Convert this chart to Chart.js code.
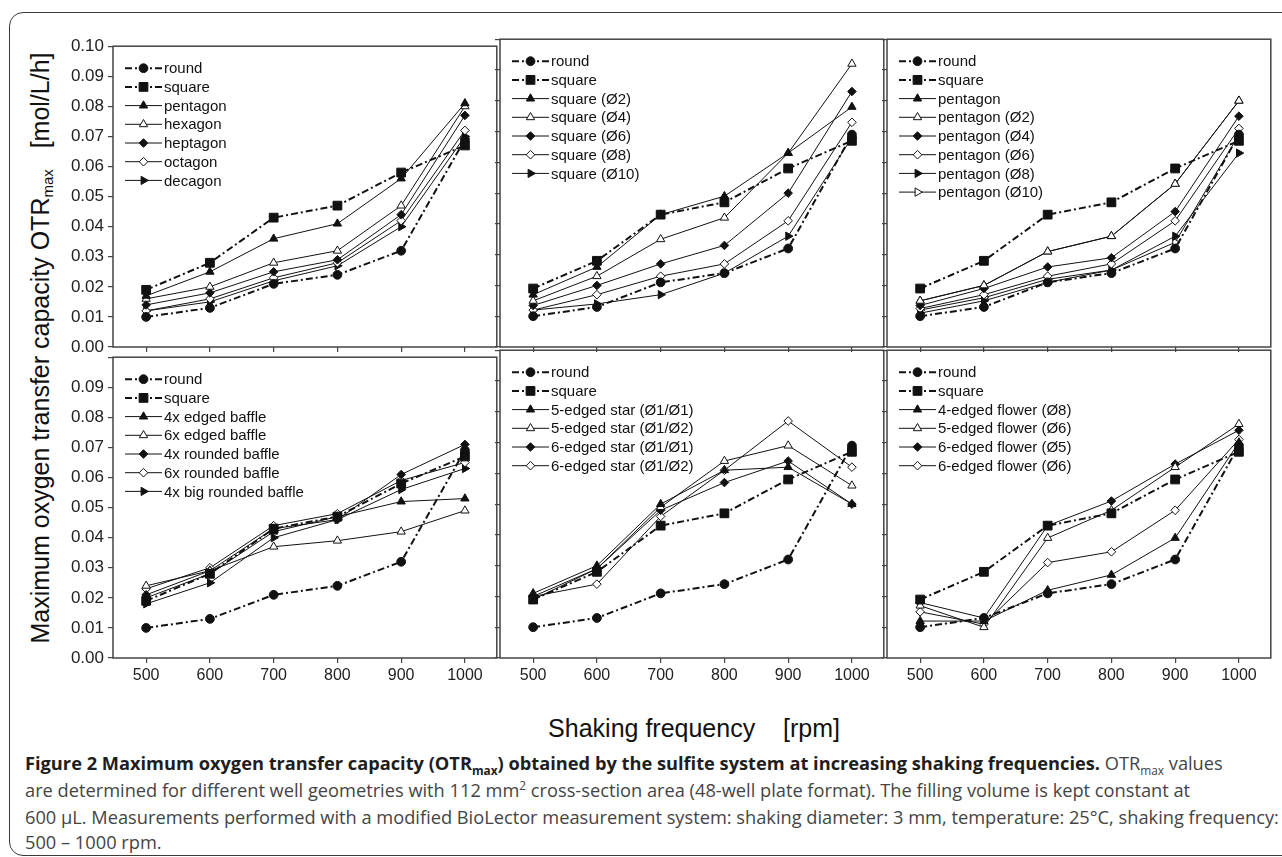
<!DOCTYPE html>
<html>
<head>
<meta charset="utf-8">
<script src="https://cdn.jsdelivr.net/npm/chart.js@4.4.1/dist/chart.umd.min.js"></script>
<style>
  html, body { margin: 0; padding: 0; background: #fff; }
  #fig { position: relative; width: 1282px; height: 857px; overflow: hidden; font-family: "Liberation Sans", Arial, sans-serif; }
  .frame { position: absolute; left: 9px; top: 12px; width: 1300px; height: 842px; border: 1.5px solid #3a3a3a; border-radius: 14px; }
  canvas.panel { position: absolute; }
  #ytitle { position: absolute; left: 40px; top: 348px; transform: translate(-50%, -50%) rotate(-90deg); white-space: nowrap; font-size: 25px; color: #111; }
  #xtitle { position: absolute; left: 694px; top: 728px; transform: translate(-50%, -50%); white-space: nowrap; font-size: 25px; color: #111; }
  #ytitle sub, #xtitle sub { font-size: 15px; vertical-align: -0.3em; line-height: 0; }
  .cap { position: absolute; left: 25px; white-space: nowrap; font-family: "Open Sans", sans-serif; font-size: 16px; line-height: 20px; color: #444; }
  .cap b { color: #1e1e1e; font-weight: 700; }
  .cap sub, .cap sup { font-size: 65%; line-height: 0; }
</style>
</head>
<body>
<div id="fig">
  <div class="frame"></div>
  <div id="ytitle">Maximum oxygen transfer capacity OTR<sub>max</sub>&nbsp;&nbsp;&nbsp;[mol/L/h]</div>
  <div id="xtitle">Shaking frequency&nbsp;&nbsp;&nbsp;&nbsp;[rpm]</div>
  <div class="cap" id="cap1" style="top:753px"><b>Figure 2 Maximum oxygen transfer capacity (OTR<sub>max</sub>) obtained by the sulfite system at increasing shaking frequencies.</b> OTR<sub>max</sub> values</div>
  <div class="cap" id="cap2" style="top:780px">are determined for different well geometries with 112 mm<sup>2</sup> cross-section area (48-well plate format). The filling volume is kept constant at</div>
  <div class="cap" id="cap3" style="top:807px">600 µL. Measurements performed with a modified BioLector measurement system: shaking diameter: 3 mm, temperature: 25°C, shaking frequency:</div>
  <div class="cap" id="cap4" style="top:832px">500 – 1000 rpm.</div>
</div>
<script>
// shaking frequency [rpm] and axis ticks
const frequencies = [500, 600, 700, 800, 900, 1000];
const xTicks = [500, 600, 700, 800, 900, 1000];
const yTicks = [0.00, 0.01, 0.02, 0.03, 0.04, 0.05, 0.06, 0.07, 0.08, 0.09, 0.10];

// references (in every panel)
const round  = [0.010, 0.013, 0.021, 0.024, 0.032, 0.069];
const square = [0.019, 0.028, 0.043, 0.047, 0.058, 0.067];

// panel 1: polygons
const pentagon = [0.017, 0.025, 0.036, 0.041, 0.056, 0.081];
const hexagon  = [0.016, 0.020, 0.028, 0.032, 0.047, 0.080];
const heptagon = [0.014, 0.018, 0.025, 0.029, 0.044, 0.077];
const octagon  = [0.012, 0.016, 0.023, 0.028, 0.042, 0.072];
const decagon  = [0.012, 0.015, 0.022, 0.027, 0.040, 0.070];

// panel 2: square with rounded corners
const square2  = [0.017, 0.026, 0.043, 0.049, 0.063, 0.078];
const square4  = [0.015, 0.023, 0.035, 0.042, 0.063, 0.092];
const square6  = [0.0135, 0.020, 0.027, 0.033, 0.050, 0.083];
const square8  = [0.012, 0.017, 0.023, 0.027, 0.041, 0.073];
const square10 = [0.012, 0.014, 0.017, 0.024, 0.036, 0.068];

// panel 3: pentagon with rounded corners
const pentagonRef = [0.015, 0.020, 0.031, 0.036, 0.053, 0.080];
const pentagon2  = [0.015, 0.020, 0.031, 0.036, 0.053, 0.080];
const pentagon4  = [0.0135, 0.019, 0.026, 0.029, 0.044, 0.075];
const pentagon6  = [0.0125, 0.017, 0.023, 0.027, 0.041, 0.071];
const pentagon8  = [0.011, 0.015, 0.021, 0.025, 0.036, 0.063];
const pentagon10 = [0.012, 0.016, 0.022, 0.025, 0.034, 0.069];

// panel 4: baffles
const edged4    = [0.020, 0.028, 0.042, 0.047, 0.052, 0.053];
const edged6    = [0.024, 0.029, 0.037, 0.039, 0.042, 0.049];
const rounded4  = [0.021, 0.029, 0.043, 0.046, 0.061, 0.071];
const rounded6  = [0.023, 0.030, 0.044, 0.048, 0.059, 0.065];
const bigRound4 = [0.018, 0.025, 0.040, 0.046, 0.056, 0.063];

// panel 5: stars
const star5a = [0.021, 0.030, 0.050, 0.061, 0.062, 0.050];
const star5b = [0.019, 0.029, 0.049, 0.064, 0.069, 0.056];
const star6a = [0.020, 0.029, 0.048, 0.057, 0.064, 0.050];
const star6b = [0.020, 0.024, 0.046, 0.061, 0.077, 0.062];

// panel 6: flowers
const flower4 = [0.012, 0.012, 0.022, 0.027, 0.039, 0.070];
const flower5 = [0.017, 0.010, 0.039, 0.048, 0.062, 0.076];
const flower6a = [0.018, 0.013, 0.043, 0.051, 0.063, 0.074];
const flower6b = [0.015, 0.011, 0.031, 0.0345, 0.048, 0.071];

const ink = "#111";
const axisInk = "#444";

const markerStyles = {
    round:     { pointStyle: "circle",   radius: 4.4, fill: true,  dashed: true },
    square:    { pointStyle: "rect",     radius: 6.2, fill: true,  dashed: true },
    tri:       { pointStyle: "triangle", radius: 4.8, fill: true },
    triOpen:   { pointStyle: "triangle", radius: 4.8, fill: false },
    dia:       { pointStyle: "rectRot",  radius: 4.3, fill: true },
    diaOpen:   { pointStyle: "rectRot",  radius: 4.3, fill: false },
    right:     { pointStyle: "triangle", radius: 4.8, fill: true,  rotation: 90 },
    rightOpen: { pointStyle: "triangle", radius: 4.8, fill: false, rotation: 90 }
};

const refs = [["round", round, "round"], ["square", square, "square"]];

const panels = [
    { left: 113, top: 36, yLabels: true, xLabels: false, hideTop: false, series: refs.concat([
        ["pentagon", pentagon, "tri"], ["hexagon", hexagon, "triOpen"], ["heptagon", heptagon, "dia"],
        ["octagon", octagon, "diaOpen"], ["decagon", decagon, "right"]]) },
    { left: 500, top: 36, yLabels: false, xLabels: false, hideTop: false, series: refs.concat([
        ["square (Ø2)", square2, "tri"], ["square (Ø4)", square4, "triOpen"], ["square (Ø6)", square6, "dia"],
        ["square (Ø8)", square8, "diaOpen"], ["square (Ø10)", square10, "right"]]) },
    { left: 887, top: 36, yLabels: false, xLabels: false, hideTop: false, series: refs.concat([
        ["pentagon", pentagonRef, "tri", true], ["pentagon (Ø2)", pentagon2, "triOpen"], ["pentagon (Ø4)", pentagon4, "dia"],
        ["pentagon (Ø6)", pentagon6, "diaOpen"], ["pentagon (Ø8)", pentagon8, "right"], ["pentagon (Ø10)", pentagon10, "rightOpen"]]) },
    { left: 113, top: 347, yLabels: true, xLabels: true, hideTop: true, series: refs.concat([
        ["4x edged baffle", edged4, "tri"], ["6x edged baffle", edged6, "triOpen"], ["4x rounded baffle", rounded4, "dia"],
        ["6x rounded baffle", rounded6, "diaOpen"], ["4x big rounded baffle", bigRound4, "right"]]) },
    { left: 500, top: 347, yLabels: false, xLabels: true, hideTop: true, series: refs.concat([
        ["5-edged star (Ø1/Ø1)", star5a, "tri"], ["5-edged star (Ø1/Ø2)", star5b, "triOpen"],
        ["6-edged star (Ø1/Ø1)", star6a, "dia"], ["6-edged star (Ø1/Ø2)", star6b, "diaOpen"]]) },
    { left: 887, top: 347, yLabels: false, xLabels: true, hideTop: true, series: refs.concat([
        ["4-edged flower (Ø8)", flower4, "tri"], ["5-edged flower (Ø6)", flower5, "triOpen"],
        ["6-edged flower (Ø5)", flower6a, "dia"], ["6-edged flower (Ø6)", flower6b, "diaOpen"]]) }
];

const PLOT_W = 387, PLOT_H = 311, AXIS_W = 62, AXIS_H = 30, PAD = 4;

function buildDataset(item, index) {
    const m = markerStyles[item[2]];
    return {
        label: item[0],
        data: frequencies.map((f, i) => ({ x: f, y: item[1][i] })),
        borderColor: ink,
        borderWidth: m.dashed ? 2 : 1,
        borderDash: m.dashed ? [7, 3, 2, 3] : [],
        pointStyle: m.pointStyle,
        pointRotation: m.rotation || 0,
        pointRadius: m.radius,
        pointHoverRadius: m.radius,
        pointBackgroundColor: m.fill ? ink : "#fff",
        pointBorderColor: ink,
        pointBorderWidth: 1,
        tension: 0,
        fill: false,
        order: item[3] ? 99 : index
    };
}

// marker for the legend, same geometry as chart.js point styles
function drawMarker(ctx, ds, x, y) {
    const r = ds.pointRadius;
    ctx.beginPath();
    if (ds.pointStyle === "circle") {
        ctx.arc(x, y, r, 0, Math.PI * 2);
    } else if (ds.pointStyle === "rect") {
        const s = r * Math.SQRT1_2;
        ctx.rect(x - s, y - s, 2 * s, 2 * s);
    } else if (ds.pointStyle === "rectRot") {
        ctx.moveTo(x - r, y);
        ctx.lineTo(x, y - r);
        ctx.lineTo(x + r, y);
        ctx.lineTo(x, y + r);
        ctx.closePath();
    } else {
        let a = ds.pointRotation * Math.PI / 180;
        ctx.moveTo(x + Math.sin(a) * r, y - Math.cos(a) * r);
        for (let k = 0; k < 2; k++) {
            a += Math.PI * 2 / 3;
            ctx.lineTo(x + Math.sin(a) * r, y - Math.cos(a) * r);
        }
        ctx.closePath();
    }
    ctx.fillStyle = ds.pointBackgroundColor;
    ctx.fill();
    ctx.lineWidth = ds.pointBorderWidth;
    ctx.strokeStyle = ds.pointBorderColor;
    ctx.stroke();
}

const panelDecor = {
    id: "panelDecor",
    afterDraw(chart) {
        const ctx = chart.ctx;
        const a = chart.chartArea;
        ctx.save();
        // legend in the upper left corner
        ctx.font = "15px 'Liberation Sans', Arial, sans-serif";
        ctx.textBaseline = "middle";
        chart.data.datasets.forEach((ds, i) => {
            const y = a.top + 22 + i * 18.7;
            const x0 = a.left + 12, x1 = a.left + 49;
            ctx.strokeStyle = ds.borderColor;
            ctx.lineWidth = ds.borderWidth;
            ctx.setLineDash(ds.borderDash);
            ctx.beginPath();
            ctx.moveTo(x0, y);
            ctx.lineTo(x1, y);
            ctx.stroke();
            ctx.setLineDash([]);
            drawMarker(ctx, ds, (x0 + x1) / 2, y);
            ctx.fillStyle = ink;
            ctx.fillText(ds.label, a.left + 51, y + 1);
        });
        // box around the plot
        ctx.strokeStyle = axisInk;
        ctx.lineWidth = 1.5;
        ctx.strokeRect(a.left, a.top, a.right - a.left, a.bottom - a.top);
        ctx.restore();
    }
};

Chart.defaults.font.family = "'Liberation Sans', Arial, sans-serif";
Chart.defaults.color = "#222";

const fig = document.getElementById("fig");

panels.forEach(p => {
    const canvas = document.createElement("canvas");
    canvas.className = "panel";
    canvas.width = AXIS_W + PLOT_W + PAD;
    canvas.height = PAD + PLOT_H + AXIS_H;
    canvas.style.left = (p.left - AXIS_W) + "px";
    canvas.style.top = (p.top - PAD) + "px";
    fig.appendChild(canvas);

    new Chart(canvas.getContext("2d"), {
        type: "line",
        data: { datasets: p.series.map(buildDataset) },
        options: {
            responsive: false,
            animation: false,
            layout: { padding: { top: PAD, right: PAD, left: 0, bottom: 0 } },
            plugins: { legend: { display: false }, tooltip: { enabled: false } },
            scales: {
                x: {
                    type: "linear",
                    min: 448,
                    max: 1050,
                    afterBuildTicks: axis => { axis.ticks = xTicks.map(v => ({ value: v })); },
                    afterFit: axis => { axis.height = AXIS_H; },
                    ticks: { display: p.xLabels, font: { size: 16 }, padding: 3, maxRotation: 0, callback: v => String(v) },
                    grid: { drawOnChartArea: false, drawTicks: true, tickLength: 5, color: axisInk, lineWidth: 1.2 },
                    border: { display: false }
                },
                y: {
                    min: 0,
                    max: 0.1,
                    afterBuildTicks: axis => { axis.ticks = yTicks.map(v => ({ value: v })); },
                    afterFit: axis => { axis.width = AXIS_W; },
                    ticks: {
                        display: p.yLabels,
                        font: { size: 17 },
                        padding: 4,
                        callback: v => (p.hideTop && v > 0.0999) ? "" : v.toFixed(2)
                    },
                    grid: { drawOnChartArea: false, drawTicks: true, tickLength: 5, color: axisInk, lineWidth: 1.2 },
                    border: { display: false }
                }
            }
        },
        plugins: [panelDecor]
    });
});

// fit caption lines to the width of the figure
const widest = document.getElementById("cap3");
const capScale = 1254 / widest.getBoundingClientRect().width;
document.querySelectorAll(".cap").forEach(el => {
    el.style.fontSize = (16 * capScale).toFixed(2) + "px";
});
</script>
</body>
</html>
